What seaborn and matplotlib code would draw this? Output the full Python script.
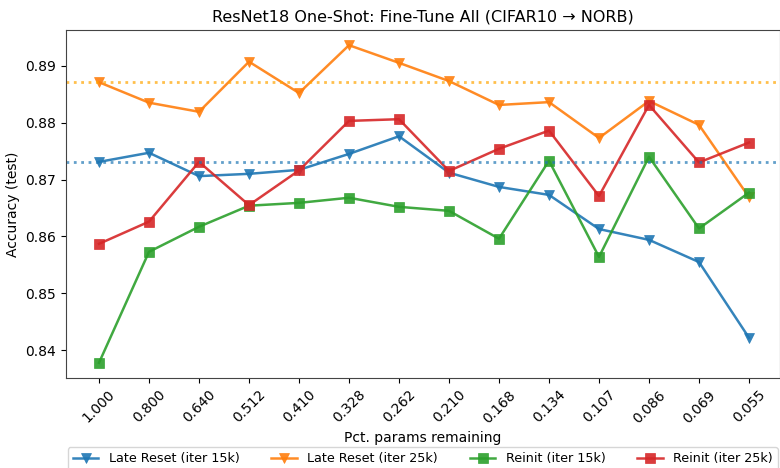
import matplotlib
matplotlib.use("Agg")
import matplotlib.pyplot as plt
import seaborn as sns
import pandas as pd
import numpy as np

pct_labels = ["1.000", "0.800", "0.640", "0.512", "0.410", "0.328", "0.262",
              "0.210", "0.168", "0.134", "0.107", "0.086", "0.069", "0.055"]

late_reset_15k = [0.8731, 0.8747, 0.8706, 0.8710, 0.8717, 0.8745, 0.8776,
                  0.8712, 0.8687, 0.8673, 0.8613, 0.8594, 0.8555, 0.8422]
late_reset_25k = [0.8871, 0.8835, 0.8819, 0.8907, 0.8852, 0.8936, 0.8905,
                  0.8873, 0.8831, 0.8836, 0.8773, 0.8838, 0.8796, 0.8669]
reinit_15k = [0.8378, 0.8573, 0.8617, 0.8654, 0.8659, 0.8668, 0.8652,
              0.8645, 0.8596, 0.8733, 0.8564, 0.8740, 0.8614, 0.8677]
reinit_25k = [0.8587, 0.8626, 0.8731, 0.8655, 0.8716, 0.8803, 0.8806,
              0.8715, 0.8754, 0.8786, 0.8671, 0.8831, 0.8730, 0.8765]

baseline_15k = 0.8731
baseline_25k = 0.8871

series_names = ["Late Reset (iter 15k)", "Late Reset (iter 25k)",
                "Reinit (iter 15k)", "Reinit (iter 25k)"]
series_values = [late_reset_15k, late_reset_25k, reinit_15k, reinit_25k]

rows = []
for name, vals in zip(series_names, series_values):
    for i, v in enumerate(vals):
        rows.append({"idx": i, "acc": v, "series": name})
df = pd.DataFrame(rows)

plt.rcParams['font.family'] = ['DejaVu Sans']
fig = plt.figure(figsize=(7.8, 4.68), dpi=100)
ax = fig.add_axes([66/780, (468-378)/468, (779.5-66)/780, 348/468])

palette = {series_names[0]: "#1f77b4", series_names[1]: "#ff7f0e",
           series_names[2]: "#2ca02c", series_names[3]: "#d62728"}
markers = {series_names[0]: "v", series_names[1]: "v",
           series_names[2]: "s", series_names[3]: "s"}

sns.lineplot(data=df, x="idx", y="acc", hue="series", style="series",
             hue_order=series_names, style_order=series_names,
             palette=palette, markers=markers, dashes=False, sort=False,
             markersize=7, linewidth=1.8, markeredgewidth=0.5,
             markeredgecolor=None, alpha=0.9, ax=ax)

ax.axhline(baseline_15k, color="#1f77b4", linestyle=":", linewidth=2, alpha=0.7)
ax.axhline(baseline_25k, color="orange", linestyle=":", linewidth=2, alpha=0.7)

ax.set_xlim(-0.66, 13.61)
ax.set_ylim(0.83513, 0.89627)
ax.set_xticks(range(len(pct_labels)))
ax.set_xticklabels(pct_labels, rotation=45)
ax.set_yticks([0.84, 0.85, 0.86, 0.87, 0.88, 0.89])
ax.set_yticklabels(["0.84", "0.85", "0.86", "0.87", "0.88", "0.89"])
ax.set_xlabel("Pct. params remaining", fontsize=10)
ax.set_ylabel("Accuracy (test)", fontsize=10)
ax.set_title("ResNet18 One-Shot: Fine-Tune All (CIFAR10 \u2192 NORB)", fontsize=11.5)
for s in ax.spines.values():
    s.set_color("#444444")

ax.legend(loc="upper center", bbox_to_anchor=(0.5, -0.18), ncol=4,
          fontsize=9.2, frameon=True, handlelength=2.0, columnspacing=2.5)

fig.savefig("out.png", dpi=100)
